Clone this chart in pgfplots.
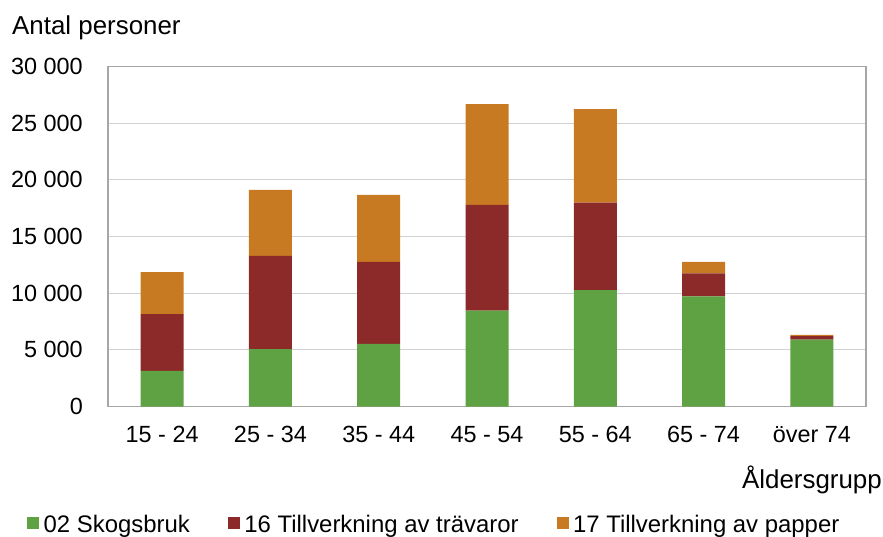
\documentclass[border=0pt]{standalone}
\usepackage{fontspec}
\setmainfont{Liberation Sans}
\usepackage{pgfplots}
\pgfplotsset{compat=1.18}
\definecolor{cgreen}{HTML}{5EA243}
\definecolor{cred}{HTML}{8B2A28}
\definecolor{corange}{HTML}{C87A22}
\begin{document}
\begin{tikzpicture}[font=\fontsize{23.5}{28}\selectfont]
\begin{axis}[
  scale only axis, width=758bp, height=340bp,
  ybar stacked, bar width=43bp,
  xmin=-0.5, xmax=6.5, ymin=0, ymax=30000,
  xtick=data,
  xticklabels={15 - 24,25 - 34,35 - 44,45 - 54,55 - 64,65 - 74,över 74},
  ytick={0,5000,10000,15000,20000,25000,30000},
  yticklabels={0,5 000,10 000,15 000,20 000,25 000,30 000},
  scaled y ticks=false,
  major tick length=0pt,
  xticklabel style={anchor=base, inner sep=0pt, yshift=-36bp},
  yticklabel style={anchor=east, inner sep=0pt, xshift=-25bp, yshift=0bp},
  axis line style={draw=black!35, line width=1.2pt},
  ymajorgrids, major grid style={draw=black!18, line width=1.2pt},
  legend columns=3,
  legend style={at={(0,0)}, anchor=base west, xshift=-84bp, yshift=-125.5bp, draw=none, fill=none,
    font=\fontsize{24}{28}\selectfont,
    /tikz/every even column/.append style={column sep=33.5bp},
    nodes={inner xsep=4.5bp, inner ysep=1bp, anchor=base west}},
  legend image code/.code={\fill[#1] (0bp,3bp) rectangle (12bp,15bp);},
  name=ax,
]
\addplot[fill=cgreen, draw=none] coordinates {(0,3150) (1,5070) (2,5530) (3,8470) (4,10270) (5,9710) (6,5890)};
\addplot[fill=cred, draw=none] coordinates {(0,5000) (1,8230) (2,7240) (3,9310) (4,7710) (5,2030) (6,320)};
\addplot[fill=corange, draw=none] coordinates {(0,3710) (1,5820) (2,5910) (3,8910) (4,8270) (5,1030) (6,120)};
\legend{02 Skogsbruk,16 Tillverkning av trävaror,17 Tillverkning av papper}
\coordinate (bl) at (rel axis cs:0,0);
\coordinate (tr) at (rel axis cs:1,1);
\end{axis}
\node[anchor=base west, inner sep=0pt, font=\fontsize{26}{30}\selectfont] at ([shift={(-96bp,31.5bp)}]bl |- tr) {Antal personer};
\node[anchor=base east, inner sep=0pt, font=\fontsize{26}{30}\selectfont] at ([shift={(16bp,-81.5bp)}]tr |- bl) {Åldersgrupp};
\pgfresetboundingbox
\path ([shift={(-108bp,-130bp)}]bl) rectangle ([shift={(17bp,66.5bp)}]tr);
\end{tikzpicture}
\end{document}
